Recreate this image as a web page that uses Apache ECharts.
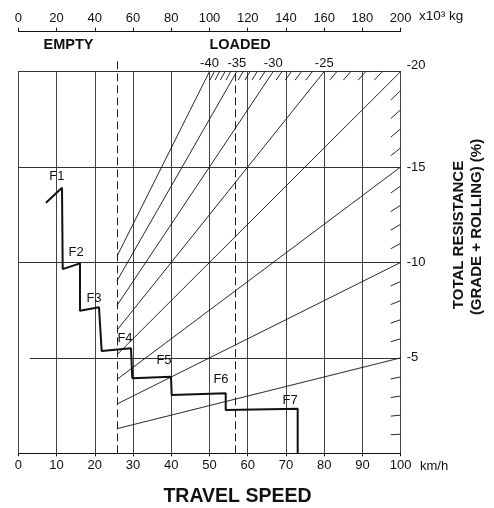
<!DOCTYPE html>
<html><head><meta charset="utf-8">
<script src="https://cdn.jsdelivr.net/npm/echarts@6/dist/echarts.min.js"></script>
<style>html,body{margin:0;padding:0;background:#fff}#c{width:494px;height:508px}</style>
</head><body><div id="c"></div>
<script>
// ---- data ----
const speedTicks = [0,10,20,30,40,50,60,70,80,90,100];          // km/h
const massTicks = [0,20,40,60,80,100,120,140,160,180,200];      // x10^3 kg
const resistTicks = [-20,-15,-10,-5];                            // %
const emptySpeed = 25.8;    // empty weight line (on speed scale)
const loadedSpeed = 56.8;   // loaded weight line (on speed scale)
const curveSpeed  = [7.24, 11.43, 11.61, 16.13, 16.13, 21.1, 21.8, 29.47, 29.81, 39.93, 40.11, 54.24, 54.24, 73.06, 73.06];
const curveResist = [-13.13, -13.91, -9.65, -9.95, -7.47, -7.65, -5.36, -5.5, -3.93, -4.01, -3.05, -3.14, -2.27, -2.34, 0];
const gearNames = ['F1','F2','F3','F4','F5','F6','F7'];
const gearLabelSpeed  = [10.1, 15.1, 19.8, 27.9, 38.1, 53.0, 71.1];
const gearLabelResist = [-14.5, -10.5, -8.1, -6.0, -4.85, -3.85, -2.75];
const majorGrades = [40,35,30,25,20,15,10,5];
const topGradeLabels = ['-40','-35','-30','-25'];
const topGradeValues = [40,35,30,25];
const minorGrades = [39,38,37,36,34,33,32,31,29,28,27,26,24,23,22,21,19,18,17,16,14,13,12,11,9,8,7,6,4,3,2,1];
const gridResist = [-20,-15,-10];
const fiveLineStart = 3;

// ---- geometry helpers (grade rays from origin) ----
function rayEnd(g){ return g >= 20 ? [2000/g, -20] : [100, -g]; }
const rays = majorGrades.map(g => ({coords: [[emptySpeed, -emptySpeed*g/100], rayEnd(g)]}));
const hatches = minorGrades.map(g => {
  if (g > 20) return {coords: [[100*19.55/g, -19.55], [2000/g, -20]]};
  return {coords: [[97.4, -97.4*g/100], [100, -g]]};
});
const hLines = gridResist.map(r => ({coords: [[0, r], [100, r]]}));
hLines.push({coords: [[fiveLineStart, -5], [100, -5]]});
const vLines = speedTicks.map(s => ({coords: [[s, 0], [s, -20]]}));
const dashLines = [{coords: [[emptySpeed, 0], [emptySpeed, -20.6]]}, {coords: [[loadedSpeed, 0], [loadedSpeed, -20]]}];

const font = 'Liberation Sans, Arial, Helvetica, sans-serif';
const chart = echarts.init(document.getElementById('c'), null, {renderer: 'canvas'});
chart.setOption({
  animation: false,
  backgroundColor: '#fff',
  grid: {left: 18.3, right: 93.3, top: 71.5, bottom: 54.7, containLabel: false},
  xAxis: [{
    type: 'value', min: 0, max: 100, interval: 10, position: 'bottom',
    axisLine: {show: true, lineStyle: {color: '#111', width: 1}},
    axisTick: {show: true, length: 3, lineStyle: {color: '#111'}},
    axisLabel: {fontSize: 13, color: '#111', fontFamily: font, margin: 6},
    splitLine: {show: false}
  }, {
    type: 'value', min: 0, max: 200, interval: 20, position: 'top', offset: 39.8,
    axisLine: {show: true, lineStyle: {color: '#111', width: 1}},
    axisTick: {show: true, length: 4, lineStyle: {color: '#111'}},
    axisLabel: {fontSize: 13, color: '#111', fontFamily: font, margin: 7},
    splitLine: {show: false}
  }],
  yAxis: [{
    type: 'value', min: -20, max: 0, interval: 5, inverse: true, position: 'right',
    axisLine: {show: true, lineStyle: {color: '#111', width: 1}},
    axisTick: {show: false},
    axisLabel: {fontSize: 13, color: '#111', fontFamily: font, margin: 6,
      formatter: v => v === 0 ? '' : (v === -20 ? '{up|-20}' : String(v)),
      rich: {up: {fontSize: 13, fontFamily: font, color: '#111', padding: [0,0,12,0]}}},
    splitLine: {show: false}
  }],
  graphic: [
    {type: 'text', left: 419, top: 9, style: {text: 'x10³ kg', font: '13.5px ' + font, fill: '#111'}},
    {type: 'text', x: 68.5, y: 45, style: {text: 'EMPTY', font: 'bold 14.5px ' + font, fill: '#111', align: 'center', verticalAlign: 'middle'}},
    {type: 'text', x: 240, y: 45, style: {text: 'LOADED', font: 'bold 14.5px ' + font, fill: '#111', align: 'center', verticalAlign: 'middle'}},
    {type: 'text', x: 420, y: 466, style: {text: 'km/h', font: '13px ' + font, fill: '#111', align: 'left', verticalAlign: 'middle'}},
    {type: 'text', x: 237.5, y: 497, style: {text: 'TRAVEL SPEED', font: 'bold 19.5px ' + font, fill: '#111', align: 'center', verticalAlign: 'middle'}},
    {type: 'text', x: 459, y: 235, rotation: Math.PI/2, style: {text: 'TOTAL RESISTANCE', font: 'bold 15px ' + font, fill: '#111', align: 'center', verticalAlign: 'middle'}},
    {type: 'text', x: 477, y: 227, rotation: Math.PI/2, style: {text: '(GRADE + ROLLING) (%)', font: 'bold 15px ' + font, fill: '#111', align: 'center', verticalAlign: 'middle'}}
  ],
  series: [
    {type: 'lines', coordinateSystem: 'cartesian2d', silent: true, clip: false, z: 1,
      lineStyle: {color: '#444', width: 1, opacity: 1}, data: vLines},
    {type: 'lines', coordinateSystem: 'cartesian2d', silent: true, clip: false, z: 1,
      lineStyle: {color: '#333', width: 1, opacity: 1}, data: hLines},
    {type: 'lines', coordinateSystem: 'cartesian2d', silent: true, clip: false, z: 2,
      lineStyle: {color: '#222', width: 1, type: [8,4], opacity: 1}, data: dashLines},
    {type: 'lines', coordinateSystem: 'cartesian2d', silent: true, clip: false, z: 2,
      lineStyle: {color: '#111', width: 0.9, opacity: 1}, data: rays},
    {type: 'lines', coordinateSystem: 'cartesian2d', silent: true, clip: false, z: 2,
      lineStyle: {color: '#111', width: 0.9, opacity: 1}, data: hatches},
    {type: 'line', silent: true, symbol: 'none', z: 5, clip: false,
      lineStyle: {color: '#111', width: 2}, data: curveSpeed.map((s,i) => [s, curveResist[i]])},
    {type: 'scatter', silent: true, symbolSize: 1, itemStyle: {color: '#fff', opacity: 0}, z: 6, clip: false,
      label: {show: true, position: 'inside', color: '#111', opacity: 1, textBorderWidth: 0, fontSize: 13, fontFamily: font, formatter: p => gearNames[p.dataIndex]},
      data: gearLabelSpeed.map((s,i) => [s, gearLabelResist[i]])},
    {type: 'scatter', silent: true, symbolSize: 1, itemStyle: {color: '#fff', opacity: 0}, z: 6, clip: false,
      label: {show: true, position: 'inside', offset: [0, -8.5], color: '#111', opacity: 1, textBorderWidth: 0, fontSize: 13, fontFamily: font, formatter: p => topGradeLabels[p.dataIndex]},
      data: topGradeValues.map(g => [2000/g, -20])}
  ]
});
</script></body></html>
